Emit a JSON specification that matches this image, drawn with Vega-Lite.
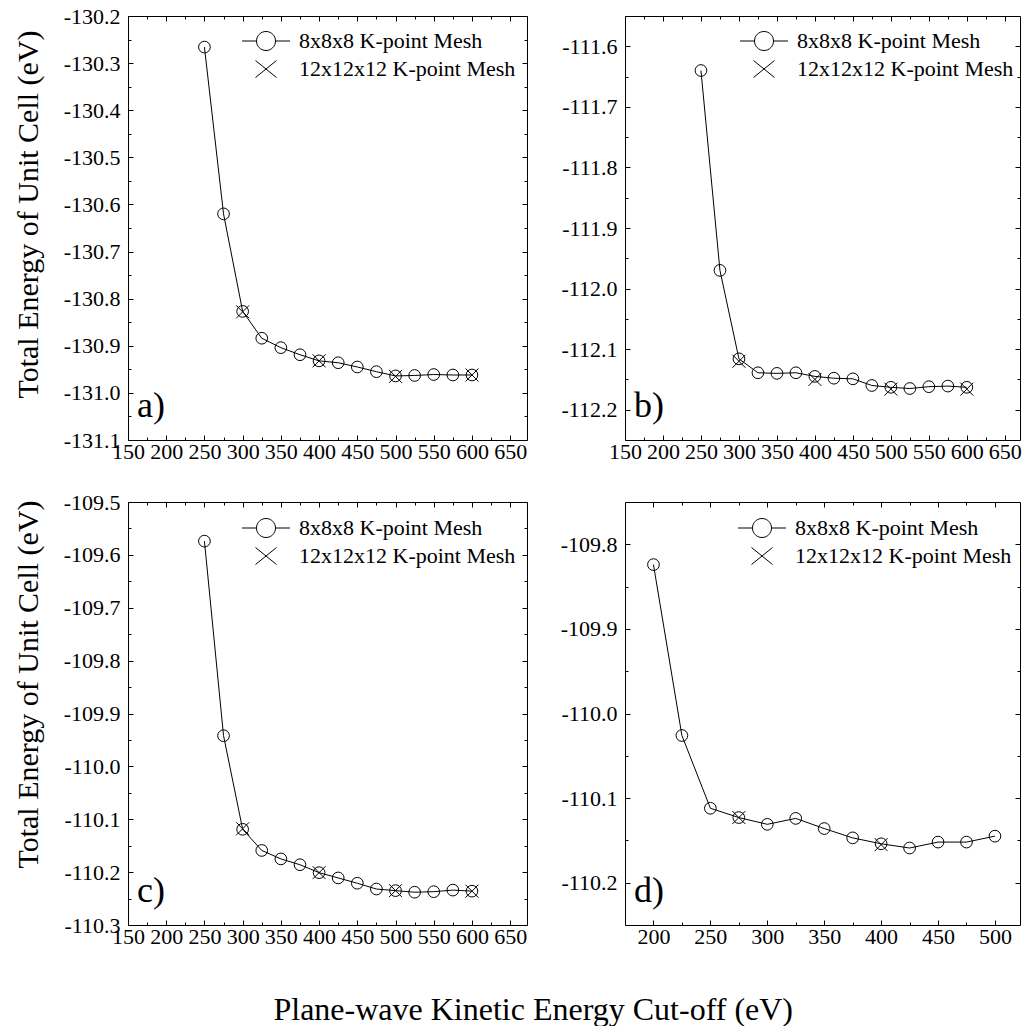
{
"$schema": "https://vega.github.io/schema/vega-lite/v6.json",
"padding": {"left": 12, "top": 4, "right": 0, "bottom": 0},
"config": {
  "locale": {"number": {"decimal": ".", "thousands": ",", "grouping": [3], "currency": ["$", ""], "minus": "-"}},
  "font": "Liberation Serif",
  "view": {"stroke": "black", "strokeWidth": 1},
  "axis": {"domain": false, "grid": false, "ticks": true, "tickColor": "black", "tickWidth": 1, "labelColor": "black", "labelFont": "Liberation Serif", "labelFontSize": 22, "titleFont": "Liberation Serif", "titleFontSize": 30, "titleFontWeight": "normal", "titleColor": "black", "labelOverlap": false, "labelFlush": false},
  "legend": {"orient": "none", "title": null, "labelFont": "Liberation Serif", "labelFontSize": 22, "labelColor": "black", "labelOffset": 22, "labelLimit": 400, "symbolSize": 400, "symbolStrokeColor": "black", "symbolStrokeWidth": 1, "symbolFillColor": "transparent", "symbolOpacity": 1, "rowPadding": 5}
},
"datasets": {
  "a": [
    {"cutoff": 250, "energy": -130.266, "mesh": "8x8x8 K-point Mesh"},
    {"cutoff": 275, "energy": -130.620, "mesh": "8x8x8 K-point Mesh"},
    {"cutoff": 300, "energy": -130.827, "mesh": "8x8x8 K-point Mesh"},
    {"cutoff": 325, "energy": -130.884, "mesh": "8x8x8 K-point Mesh"},
    {"cutoff": 350, "energy": -130.904, "mesh": "8x8x8 K-point Mesh"},
    {"cutoff": 375, "energy": -130.919, "mesh": "8x8x8 K-point Mesh"},
    {"cutoff": 400, "energy": -130.932, "mesh": "8x8x8 K-point Mesh"},
    {"cutoff": 425, "energy": -130.936, "mesh": "8x8x8 K-point Mesh"},
    {"cutoff": 450, "energy": -130.945, "mesh": "8x8x8 K-point Mesh"},
    {"cutoff": 475, "energy": -130.955, "mesh": "8x8x8 K-point Mesh"},
    {"cutoff": 500, "energy": -130.964, "mesh": "8x8x8 K-point Mesh"},
    {"cutoff": 525, "energy": -130.963, "mesh": "8x8x8 K-point Mesh"},
    {"cutoff": 550, "energy": -130.961, "mesh": "8x8x8 K-point Mesh"},
    {"cutoff": 575, "energy": -130.962, "mesh": "8x8x8 K-point Mesh"},
    {"cutoff": 600, "energy": -130.962, "mesh": "8x8x8 K-point Mesh"},
    {"cutoff": 300, "energy": -130.828, "mesh": "12x12x12 K-point Mesh"},
    {"cutoff": 400, "energy": -130.932, "mesh": "12x12x12 K-point Mesh"},
    {"cutoff": 500, "energy": -130.965, "mesh": "12x12x12 K-point Mesh"},
    {"cutoff": 600, "energy": -130.962, "mesh": "12x12x12 K-point Mesh"}
  ],
  "b": [
    {"cutoff": 250, "energy": -111.640, "mesh": "8x8x8 K-point Mesh"},
    {"cutoff": 275, "energy": -111.970, "mesh": "8x8x8 K-point Mesh"},
    {"cutoff": 300, "energy": -112.116, "mesh": "8x8x8 K-point Mesh"},
    {"cutoff": 325, "energy": -112.139, "mesh": "8x8x8 K-point Mesh"},
    {"cutoff": 350, "energy": -112.140, "mesh": "8x8x8 K-point Mesh"},
    {"cutoff": 375, "energy": -112.139, "mesh": "8x8x8 K-point Mesh"},
    {"cutoff": 400, "energy": -112.145, "mesh": "8x8x8 K-point Mesh"},
    {"cutoff": 425, "energy": -112.148, "mesh": "8x8x8 K-point Mesh"},
    {"cutoff": 450, "energy": -112.149, "mesh": "8x8x8 K-point Mesh"},
    {"cutoff": 475, "energy": -112.160, "mesh": "8x8x8 K-point Mesh"},
    {"cutoff": 500, "energy": -112.163, "mesh": "8x8x8 K-point Mesh"},
    {"cutoff": 525, "energy": -112.165, "mesh": "8x8x8 K-point Mesh"},
    {"cutoff": 550, "energy": -112.162, "mesh": "8x8x8 K-point Mesh"},
    {"cutoff": 575, "energy": -112.161, "mesh": "8x8x8 K-point Mesh"},
    {"cutoff": 600, "energy": -112.163, "mesh": "8x8x8 K-point Mesh"},
    {"cutoff": 300, "energy": -112.120, "mesh": "12x12x12 K-point Mesh"},
    {"cutoff": 400, "energy": -112.150, "mesh": "12x12x12 K-point Mesh"},
    {"cutoff": 500, "energy": -112.166, "mesh": "12x12x12 K-point Mesh"},
    {"cutoff": 600, "energy": -112.166, "mesh": "12x12x12 K-point Mesh"}
  ],
  "c": [
    {"cutoff": 250, "energy": -109.574, "mesh": "8x8x8 K-point Mesh"},
    {"cutoff": 275, "energy": -109.942, "mesh": "8x8x8 K-point Mesh"},
    {"cutoff": 300, "energy": -110.119, "mesh": "8x8x8 K-point Mesh"},
    {"cutoff": 325, "energy": -110.159, "mesh": "8x8x8 K-point Mesh"},
    {"cutoff": 350, "energy": -110.175, "mesh": "8x8x8 K-point Mesh"},
    {"cutoff": 375, "energy": -110.186, "mesh": "8x8x8 K-point Mesh"},
    {"cutoff": 400, "energy": -110.201, "mesh": "8x8x8 K-point Mesh"},
    {"cutoff": 425, "energy": -110.211, "mesh": "8x8x8 K-point Mesh"},
    {"cutoff": 450, "energy": -110.221, "mesh": "8x8x8 K-point Mesh"},
    {"cutoff": 475, "energy": -110.232, "mesh": "8x8x8 K-point Mesh"},
    {"cutoff": 500, "energy": -110.235, "mesh": "8x8x8 K-point Mesh"},
    {"cutoff": 525, "energy": -110.238, "mesh": "8x8x8 K-point Mesh"},
    {"cutoff": 550, "energy": -110.237, "mesh": "8x8x8 K-point Mesh"},
    {"cutoff": 575, "energy": -110.234, "mesh": "8x8x8 K-point Mesh"},
    {"cutoff": 600, "energy": -110.236, "mesh": "8x8x8 K-point Mesh"},
    {"cutoff": 300, "energy": -110.118, "mesh": "12x12x12 K-point Mesh"},
    {"cutoff": 400, "energy": -110.201, "mesh": "12x12x12 K-point Mesh"},
    {"cutoff": 500, "energy": -110.235, "mesh": "12x12x12 K-point Mesh"},
    {"cutoff": 600, "energy": -110.236, "mesh": "12x12x12 K-point Mesh"}
  ],
  "d": [
    {"cutoff": 200, "energy": -109.824, "mesh": "8x8x8 K-point Mesh"},
    {"cutoff": 225, "energy": -110.026, "mesh": "8x8x8 K-point Mesh"},
    {"cutoff": 250, "energy": -110.112, "mesh": "8x8x8 K-point Mesh"},
    {"cutoff": 275, "energy": -110.123, "mesh": "8x8x8 K-point Mesh"},
    {"cutoff": 300, "energy": -110.131, "mesh": "8x8x8 K-point Mesh"},
    {"cutoff": 325, "energy": -110.124, "mesh": "8x8x8 K-point Mesh"},
    {"cutoff": 350, "energy": -110.136, "mesh": "8x8x8 K-point Mesh"},
    {"cutoff": 375, "energy": -110.147, "mesh": "8x8x8 K-point Mesh"},
    {"cutoff": 400, "energy": -110.154, "mesh": "8x8x8 K-point Mesh"},
    {"cutoff": 425, "energy": -110.159, "mesh": "8x8x8 K-point Mesh"},
    {"cutoff": 450, "energy": -110.152, "mesh": "8x8x8 K-point Mesh"},
    {"cutoff": 475, "energy": -110.152, "mesh": "8x8x8 K-point Mesh"},
    {"cutoff": 500, "energy": -110.145, "mesh": "8x8x8 K-point Mesh"},
    {"cutoff": 275, "energy": -110.123, "mesh": "12x12x12 K-point Mesh"},
    {"cutoff": 400, "energy": -110.155, "mesh": "12x12x12 K-point Mesh"}
  ]
},
"title": {"text": "Plane-wave Kinetic Energy Cut-off (eV)", "orient": "bottom", "anchor": "middle", "baseline": "alphabetic", "offset": 72, "dx": 16, "fontSize": 32, "font": "Liberation Serif", "fontWeight": "normal", "color": "black"},
"columns": 2,
"spacing": {"row": 27, "column": 31},
"resolve": {"scale": {"shape": "independent"}, "legend": {"shape": "independent"}},
"concat": [
  {
    "width": 399, "height": 424,
    "data": {"name": "a"},
    "title": {"text": "a)", "orient": "bottom", "anchor": "start", "frame": "group", "baseline": "alphabetic", "offset": -45, "dx": 9, "fontSize": 36, "font": "Liberation Serif", "fontWeight": "normal", "color": "black"},
    "layer": [
      {
        "transform": [{"filter": "datum.mesh === '8x8x8 K-point Mesh'"}],
        "mark": {"type": "line", "color": "black", "strokeWidth": 1},
        "encoding": {
          "x": {"field": "cutoff", "type": "quantitative", "scale": {"domain": [150, 672], "nice": false, "zero": false}, "axis": {"orient": "bottom", "title": null, "values": [150,200,250,300,350,400,450,500,550,600,650], "format": "d", "tickSize": -5, "labelPadding": 6}},
          "y": {"field": "energy", "type": "quantitative", "scale": {"domain": [-131.1, -130.2], "nice": false, "zero": false}, "axis": {"orient": "left", "title": "Total Energy of Unit Cell (eV)", "values": [-131.1,-131.0,-130.9,-130.8,-130.7,-130.6,-130.5,-130.4,-130.3,-130.2], "format": ".1f", "tickSize": -5, "labelPadding": 13, "titlePadding": 20, "titleY": 198}}
        }
      },
      {
        "transform": [{"filter": "datum.mesh === '8x8x8 K-point Mesh'"}],
        "mark": {"type": "point", "shape": "M-0.9,0A0.9,0.9 0 1,1 0.9,0A0.9,0.9 0 1,1 -0.9,0Z", "filled": false, "color": "black", "strokeWidth": 1, "size": 169, "opacity": 1},
        "encoding": {
          "x": {"field": "cutoff", "type": "quantitative", "scale": {"domain": [150, 672], "nice": false, "zero": false}, "axis": {"orient": "bottom", "title": null, "values": [175,225,275,325,375,425,475,525,575,625], "labels": false, "tickSize": -3}},
          "y": {"field": "energy", "type": "quantitative", "scale": {"domain": [-131.1, -130.2], "nice": false, "zero": false}, "axis": {"orient": "left", "title": null, "values": [-131.05,-130.95,-130.85,-130.75,-130.65,-130.55,-130.45,-130.35,-130.25], "labels": false, "tickSize": -3}}
        }
      },
      {
        "transform": [{"filter": "datum.mesh === '12x12x12 K-point Mesh'"}],
        "mark": {"type": "point", "shape": "M-1,-1L1,1M1,-1L-1,1", "filled": false, "color": "black", "strokeWidth": 1, "size": 169, "opacity": 1},
        "encoding": {
          "x": {"field": "cutoff", "type": "quantitative", "scale": {"domain": [150, 672], "nice": false, "zero": false}, "axis": {"orient": "top", "title": null, "values": [150,200,250,300,350,400,450,500,550,600,650], "labels": false, "tickSize": -5}},
          "y": {"field": "energy", "type": "quantitative", "scale": {"domain": [-131.1, -130.2], "nice": false, "zero": false}, "axis": {"orient": "right", "title": null, "values": [-131.1,-131.0,-130.9,-130.8,-130.7,-130.6,-130.5,-130.4,-130.3,-130.2], "labels": false, "tickSize": -5}}
        }
      },
      {
        "mark": {"type": "point", "filled": false, "color": "black", "opacity": 0},
        "encoding": {
          "x": {"field": "cutoff", "type": "quantitative", "scale": {"domain": [150, 672], "nice": false, "zero": false}, "axis": {"orient": "top", "title": null, "values": [175,225,275,325,375,425,475,525,575,625], "labels": false, "tickSize": -3}},
          "y": {"field": "energy", "type": "quantitative", "scale": {"domain": [-131.1, -130.2], "nice": false, "zero": false}, "axis": {"orient": "right", "title": null, "values": [-131.05,-130.95,-130.85,-130.75,-130.65,-130.55,-130.45,-130.35,-130.25], "labels": false, "tickSize": -3}},
          "shape": {"field": "mesh", "type": "nominal", "scale": {"domain": ["8x8x8 K-point Mesh", "12x12x12 K-point Mesh"], "range": ["M-2.4,0L-0.95,0A0.95,0.95 0 1,1 0.95,0A0.95,0.95 0 1,1 -0.95,0M0.95,0L2.4,0", "M-1.05,-0.85L1.05,0.85M1.05,-0.85L-1.05,0.85"]},
            "legend": {"orient": "none", "legendX": 127, "legendY": 14, "symbolOpacity": 1}}
        }
      }
    ],
    "resolve": {"axis": {"x": "independent", "y": "independent"}}
  },
  {
    "width": 395, "height": 424,
    "data": {"name": "b"},
    "title": {"text": "b)", "orient": "bottom", "anchor": "start", "frame": "group", "baseline": "alphabetic", "offset": -45, "dx": 9, "fontSize": 36, "font": "Liberation Serif", "fontWeight": "normal", "color": "black"},
    "layer": [
      {
        "transform": [{"filter": "datum.mesh === '8x8x8 K-point Mesh'"}],
        "mark": {"type": "line", "color": "black", "strokeWidth": 1},
        "encoding": {
          "x": {"field": "cutoff", "type": "quantitative", "scale": {"domain": [150, 670], "nice": false, "zero": false}, "axis": {"orient": "bottom", "title": null, "values": [150,200,250,300,350,400,450,500,550,600,650], "format": "d", "tickSize": -5, "labelPadding": 6}},
          "y": {"field": "energy", "type": "quantitative", "scale": {"domain": [-112.25, -111.55], "nice": false, "zero": false}, "axis": {"orient": "left", "title": null, "values": [-112.2,-112.1,-112.0,-111.9,-111.8,-111.7,-111.6], "format": ".1f", "tickSize": -5, "labelPadding": 13}}
        }
      },
      {
        "transform": [{"filter": "datum.mesh === '8x8x8 K-point Mesh'"}],
        "mark": {"type": "point", "shape": "M-0.9,0A0.9,0.9 0 1,1 0.9,0A0.9,0.9 0 1,1 -0.9,0Z", "filled": false, "color": "black", "strokeWidth": 1, "size": 169, "opacity": 1},
        "encoding": {
          "x": {"field": "cutoff", "type": "quantitative", "scale": {"domain": [150, 670], "nice": false, "zero": false}, "axis": {"orient": "bottom", "title": null, "values": [175,225,275,325,375,425,475,525,575,625], "labels": false, "tickSize": -3}},
          "y": {"field": "energy", "type": "quantitative", "scale": {"domain": [-112.25, -111.55], "nice": false, "zero": false}, "axis": {"orient": "left", "title": null, "values": [-112.15,-112.05,-111.95,-111.85,-111.75,-111.65], "labels": false, "tickSize": -3}}
        }
      },
      {
        "transform": [{"filter": "datum.mesh === '12x12x12 K-point Mesh'"}],
        "mark": {"type": "point", "shape": "M-1,-1L1,1M1,-1L-1,1", "filled": false, "color": "black", "strokeWidth": 1, "size": 169, "opacity": 1},
        "encoding": {
          "x": {"field": "cutoff", "type": "quantitative", "scale": {"domain": [150, 670], "nice": false, "zero": false}, "axis": {"orient": "top", "title": null, "values": [150,200,250,300,350,400,450,500,550,600,650], "labels": false, "tickSize": -5}},
          "y": {"field": "energy", "type": "quantitative", "scale": {"domain": [-112.25, -111.55], "nice": false, "zero": false}, "axis": {"orient": "right", "title": null, "values": [-112.2,-112.1,-112.0,-111.9,-111.8,-111.7,-111.6], "labels": false, "tickSize": -5}}
        }
      },
      {
        "mark": {"type": "point", "filled": false, "color": "black", "opacity": 0},
        "encoding": {
          "x": {"field": "cutoff", "type": "quantitative", "scale": {"domain": [150, 670], "nice": false, "zero": false}, "axis": {"orient": "top", "title": null, "values": [175,225,275,325,375,425,475,525,575,625], "labels": false, "tickSize": -3}},
          "y": {"field": "energy", "type": "quantitative", "scale": {"domain": [-112.25, -111.55], "nice": false, "zero": false}, "axis": {"orient": "right", "title": null, "values": [-112.15,-112.05,-111.95,-111.85,-111.75,-111.65], "labels": false, "tickSize": -3}},
          "shape": {"field": "mesh", "type": "nominal", "scale": {"domain": ["8x8x8 K-point Mesh", "12x12x12 K-point Mesh"], "range": ["M-2.4,0L-0.95,0A0.95,0.95 0 1,1 0.95,0A0.95,0.95 0 1,1 -0.95,0M0.95,0L2.4,0", "M-1.05,-0.85L1.05,0.85M1.05,-0.85L-1.05,0.85"]},
            "legend": {"orient": "none", "legendX": 128, "legendY": 14, "symbolOpacity": 1}}
        }
      }
    ],
    "resolve": {"axis": {"x": "independent", "y": "independent"}}
  },
  {
    "width": 399, "height": 423,
    "data": {"name": "c"},
    "title": {"text": "c)", "orient": "bottom", "anchor": "start", "frame": "group", "baseline": "alphabetic", "offset": -45, "dx": 9, "fontSize": 36, "font": "Liberation Serif", "fontWeight": "normal", "color": "black"},
    "layer": [
      {
        "transform": [{"filter": "datum.mesh === '8x8x8 K-point Mesh'"}],
        "mark": {"type": "line", "color": "black", "strokeWidth": 1},
        "encoding": {
          "x": {"field": "cutoff", "type": "quantitative", "scale": {"domain": [150, 672], "nice": false, "zero": false}, "axis": {"orient": "bottom", "title": null, "values": [150,200,250,300,350,400,450,500,550,600,650], "format": "d", "tickSize": -5, "labelPadding": 6}},
          "y": {"field": "energy", "type": "quantitative", "scale": {"domain": [-110.3, -109.5], "nice": false, "zero": false}, "axis": {"orient": "left", "title": "Total Energy of Unit Cell (eV)", "values": [-110.3,-110.2,-110.1,-110.0,-109.9,-109.8,-109.7,-109.6,-109.5], "format": ".1f", "tickSize": -5, "labelPadding": 13, "titlePadding": 20, "titleY": 182}}
        }
      },
      {
        "transform": [{"filter": "datum.mesh === '8x8x8 K-point Mesh'"}],
        "mark": {"type": "point", "shape": "M-0.9,0A0.9,0.9 0 1,1 0.9,0A0.9,0.9 0 1,1 -0.9,0Z", "filled": false, "color": "black", "strokeWidth": 1, "size": 169, "opacity": 1},
        "encoding": {
          "x": {"field": "cutoff", "type": "quantitative", "scale": {"domain": [150, 672], "nice": false, "zero": false}, "axis": {"orient": "bottom", "title": null, "values": [175,225,275,325,375,425,475,525,575,625], "labels": false, "tickSize": -3}},
          "y": {"field": "energy", "type": "quantitative", "scale": {"domain": [-110.3, -109.5], "nice": false, "zero": false}, "axis": {"orient": "left", "title": null, "values": [-110.25,-110.15,-110.05,-109.95,-109.85,-109.75,-109.65,-109.55], "labels": false, "tickSize": -3}}
        }
      },
      {
        "transform": [{"filter": "datum.mesh === '12x12x12 K-point Mesh'"}],
        "mark": {"type": "point", "shape": "M-1,-1L1,1M1,-1L-1,1", "filled": false, "color": "black", "strokeWidth": 1, "size": 169, "opacity": 1},
        "encoding": {
          "x": {"field": "cutoff", "type": "quantitative", "scale": {"domain": [150, 672], "nice": false, "zero": false}, "axis": {"orient": "top", "title": null, "values": [150,200,250,300,350,400,450,500,550,600,650], "labels": false, "tickSize": -5}},
          "y": {"field": "energy", "type": "quantitative", "scale": {"domain": [-110.3, -109.5], "nice": false, "zero": false}, "axis": {"orient": "right", "title": null, "values": [-110.3,-110.2,-110.1,-110.0,-109.9,-109.8,-109.7,-109.6,-109.5], "labels": false, "tickSize": -5}}
        }
      },
      {
        "mark": {"type": "point", "filled": false, "color": "black", "opacity": 0},
        "encoding": {
          "x": {"field": "cutoff", "type": "quantitative", "scale": {"domain": [150, 672], "nice": false, "zero": false}, "axis": {"orient": "top", "title": null, "values": [175,225,275,325,375,425,475,525,575,625], "labels": false, "tickSize": -3}},
          "y": {"field": "energy", "type": "quantitative", "scale": {"domain": [-110.3, -109.5], "nice": false, "zero": false}, "axis": {"orient": "right", "title": null, "values": [-110.25,-110.15,-110.05,-109.95,-109.85,-109.75,-109.65,-109.55], "labels": false, "tickSize": -3}},
          "shape": {"field": "mesh", "type": "nominal", "scale": {"domain": ["8x8x8 K-point Mesh", "12x12x12 K-point Mesh"], "range": ["M-2.4,0L-0.95,0A0.95,0.95 0 1,1 0.95,0A0.95,0.95 0 1,1 -0.95,0M0.95,0L2.4,0", "M-1.05,-0.85L1.05,0.85M1.05,-0.85L-1.05,0.85"]},
            "legend": {"orient": "none", "legendX": 127, "legendY": 15, "symbolOpacity": 1}}
        }
      }
    ],
    "resolve": {"axis": {"x": "independent", "y": "independent"}}
  },
  {
    "width": 395, "height": 423,
    "data": {"name": "d"},
    "title": {"text": "d)", "orient": "bottom", "anchor": "start", "frame": "group", "baseline": "alphabetic", "offset": -45, "dx": 9, "fontSize": 36, "font": "Liberation Serif", "fontWeight": "normal", "color": "black"},
    "layer": [
      {
        "transform": [{"filter": "datum.mesh === '8x8x8 K-point Mesh'"}],
        "mark": {"type": "line", "color": "black", "strokeWidth": 1},
        "encoding": {
          "x": {"field": "cutoff", "type": "quantitative", "scale": {"domain": [175, 522], "nice": false, "zero": false}, "axis": {"orient": "bottom", "title": null, "values": [200,250,300,350,400,450,500], "format": "d", "tickSize": -5, "labelPadding": 6}},
          "y": {"field": "energy", "type": "quantitative", "scale": {"domain": [-110.25, -109.75], "nice": false, "zero": false}, "axis": {"orient": "left", "title": null, "values": [-110.2,-110.1,-110.0,-109.9,-109.8], "format": ".1f", "tickSize": -5, "labelPadding": 13}}
        }
      },
      {
        "transform": [{"filter": "datum.mesh === '8x8x8 K-point Mesh'"}],
        "mark": {"type": "point", "shape": "M-0.9,0A0.9,0.9 0 1,1 0.9,0A0.9,0.9 0 1,1 -0.9,0Z", "filled": false, "color": "black", "strokeWidth": 1, "size": 169, "opacity": 1},
        "encoding": {
          "x": {"field": "cutoff", "type": "quantitative", "scale": {"domain": [175, 522], "nice": false, "zero": false}, "axis": {"orient": "bottom", "title": null, "values": [225,275,325,375,425,475], "labels": false, "tickSize": -3}},
          "y": {"field": "energy", "type": "quantitative", "scale": {"domain": [-110.25, -109.75], "nice": false, "zero": false}, "axis": {"orient": "left", "title": null, "values": [-110.15,-110.05,-109.95,-109.85], "labels": false, "tickSize": -3}}
        }
      },
      {
        "transform": [{"filter": "datum.mesh === '12x12x12 K-point Mesh'"}],
        "mark": {"type": "point", "shape": "M-1,-1L1,1M1,-1L-1,1", "filled": false, "color": "black", "strokeWidth": 1, "size": 169, "opacity": 1},
        "encoding": {
          "x": {"field": "cutoff", "type": "quantitative", "scale": {"domain": [175, 522], "nice": false, "zero": false}, "axis": {"orient": "top", "title": null, "values": [200,250,300,350,400,450,500], "labels": false, "tickSize": -5}},
          "y": {"field": "energy", "type": "quantitative", "scale": {"domain": [-110.25, -109.75], "nice": false, "zero": false}, "axis": {"orient": "right", "title": null, "values": [-110.2,-110.1,-110.0,-109.9,-109.8], "labels": false, "tickSize": -5}}
        }
      },
      {
        "mark": {"type": "point", "filled": false, "color": "black", "opacity": 0},
        "encoding": {
          "x": {"field": "cutoff", "type": "quantitative", "scale": {"domain": [175, 522], "nice": false, "zero": false}, "axis": {"orient": "top", "title": null, "values": [225,275,325,375,425,475], "labels": false, "tickSize": -3}},
          "y": {"field": "energy", "type": "quantitative", "scale": {"domain": [-110.25, -109.75], "nice": false, "zero": false}, "axis": {"orient": "right", "title": null, "values": [-110.15,-110.05,-109.95,-109.85], "labels": false, "tickSize": -3}},
          "shape": {"field": "mesh", "type": "nominal", "scale": {"domain": ["8x8x8 K-point Mesh", "12x12x12 K-point Mesh"], "range": ["M-2.4,0L-0.95,0A0.95,0.95 0 1,1 0.95,0A0.95,0.95 0 1,1 -0.95,0M0.95,0L2.4,0", "M-1.05,-0.85L1.05,0.85M1.05,-0.85L-1.05,0.85"]},
            "legend": {"orient": "none", "legendX": 126, "legendY": 15, "symbolOpacity": 1}}
        }
      }
    ],
    "resolve": {"axis": {"x": "independent", "y": "independent"}}
  }
]
}
